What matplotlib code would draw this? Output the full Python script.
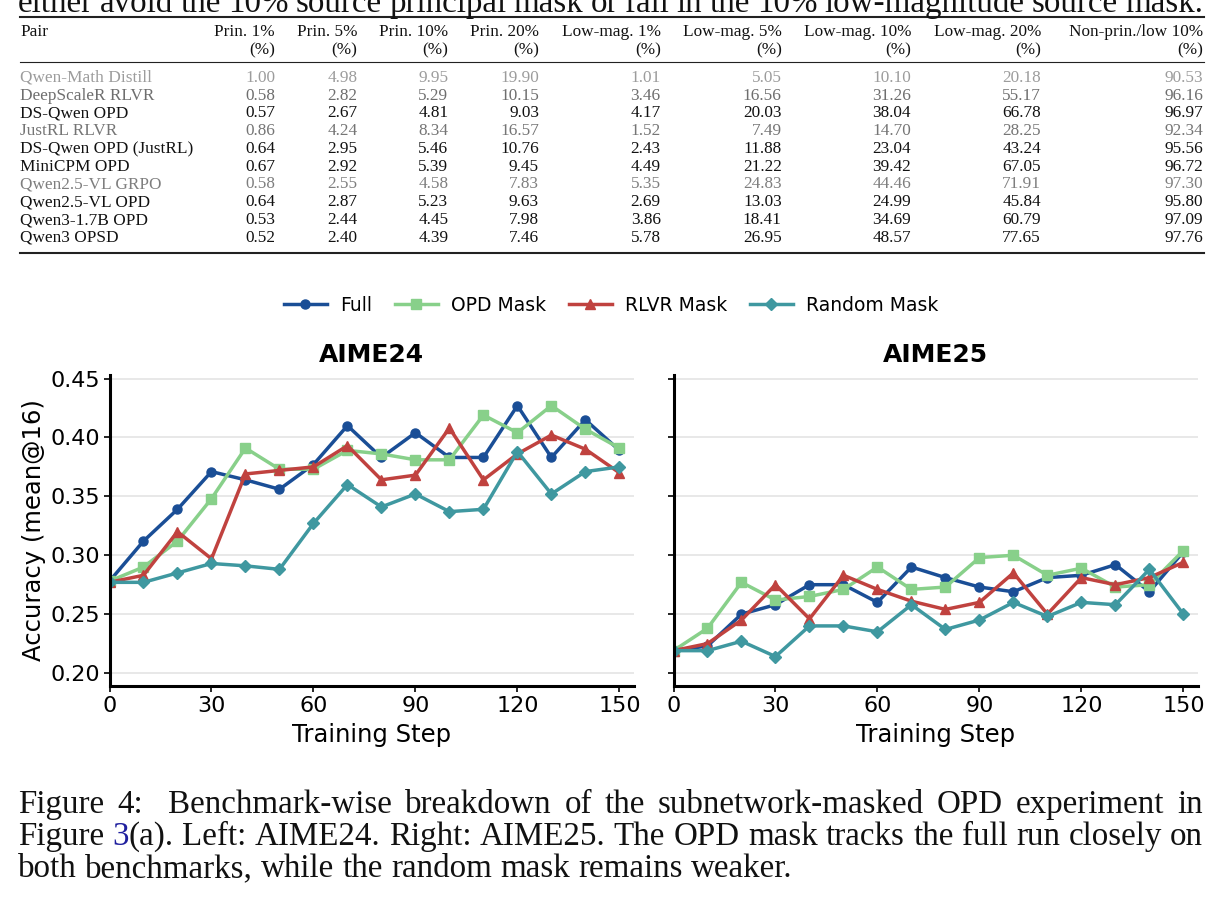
import matplotlib
matplotlib.use("Agg")
import matplotlib.pyplot as plt
from matplotlib.lines import Line2D

# ---------------- data ----------------
steps = [0, 10, 20, 30, 40, 50, 60, 70, 80, 90, 100, 110, 120, 130, 140, 150]

aime24_full = [0.278, 0.312, 0.339, 0.371, 0.364, 0.356, 0.377, 0.410, 0.383, 0.404, 0.383, 0.383, 0.427, 0.383, 0.415, 0.389]
aime24_opd = [0.278, 0.290, 0.312, 0.348, 0.391, 0.373, 0.373, 0.389, 0.386, 0.381, 0.381, 0.419, 0.404, 0.427, 0.407, 0.391]
aime24_rlvr = [0.277, 0.283, 0.320, 0.297, 0.369, 0.372, 0.375, 0.393, 0.364, 0.368, 0.408, 0.364, 0.386, 0.402, 0.390, 0.370]
aime24_random = [0.277, 0.277, 0.285, 0.293, 0.291, 0.288, 0.327, 0.360, 0.341, 0.352, 0.337, 0.339, 0.388, 0.352, 0.371, 0.375]

aime25_full = [0.219, 0.223, 0.250, 0.258, 0.275, 0.275, 0.260, 0.290, 0.281, 0.273, 0.269, 0.281, 0.283, 0.292, 0.269, 0.303]
aime25_opd = [0.219, 0.238, 0.277, 0.262, 0.265, 0.271, 0.290, 0.271, 0.273, 0.298, 0.300, 0.283, 0.289, 0.273, 0.275, 0.304]
aime25_rlvr = [0.219, 0.225, 0.245, 0.275, 0.246, 0.283, 0.271, 0.261, 0.254, 0.260, 0.285, 0.250, 0.281, 0.275, 0.281, 0.294]
aime25_random = [0.219, 0.219, 0.227, 0.214, 0.240, 0.240, 0.235, 0.258, 0.237, 0.245, 0.260, 0.248, 0.260, 0.258, 0.288, 0.250]

series_names = ["Full", "OPD Mask", "RLVR Mask", "Random Mask"]
benchmarks = ["AIME24", "AIME25"]
x_ticks = [0, 30, 60, 90, 120, 150]
y_ticks = [0.20, 0.25, 0.30, 0.35, 0.40, 0.45]

pairs = ["Qwen-Math Distill", "DeepScaleR RLVR", "DS-Qwen OPD", "JustRL RLVR",
         "DS-Qwen OPD (JustRL)", "MiniCPM OPD", "Qwen2.5-VL GRPO", "Qwen2.5-VL OPD",
         "Qwen3-1.7B OPD", "Qwen3 OPSD"]
col_heads = ["Prin. 1%", "Prin. 5%", "Prin. 10%", "Prin. 20%", "Low-mag. 1%",
             "Low-mag. 5%", "Low-mag. 10%", "Low-mag. 20%", "Non-prin./low 10%"]
prin_1 = [1.00, 0.58, 0.57, 0.86, 0.64, 0.67, 0.58, 0.64, 0.53, 0.52]
prin_5 = [4.98, 2.82, 2.67, 4.24, 2.95, 2.92, 2.55, 2.87, 2.44, 2.40]
prin_10 = [9.95, 5.29, 4.81, 8.34, 5.46, 5.39, 4.58, 5.23, 4.45, 4.39]
prin_20 = [19.90, 10.15, 9.03, 16.57, 10.76, 9.45, 7.83, 9.63, 7.98, 7.46]
low_1 = [1.01, 3.46, 4.17, 1.52, 2.43, 4.49, 5.35, 2.69, 3.86, 5.78]
low_5 = [5.05, 16.56, 20.03, 7.49, 11.88, 21.22, 24.83, 13.03, 18.41, 26.95]
low_10 = [10.10, 31.26, 38.04, 14.70, 23.04, 39.42, 44.46, 24.99, 34.69, 48.57]
low_20 = [20.18, 55.17, 66.78, 28.25, 43.24, 67.05, 71.91, 45.84, 60.79, 77.65]
nonprin_low_10 = [90.53, 96.16, 96.97, 92.34, 95.56, 96.72, 97.30, 95.80, 97.09, 97.76]

top_line = "either avoid the 10% source principal mask or fall in the 10% low-magnitude source mask."
caption_1 = "Figure 4:  Benchmark-wise breakdown of the subnetwork-masked OPD experiment in"
caption_2 = "Figure 3(a). Left: AIME24. Right: AIME25. The OPD mask tracks the full run closely on"
caption_3 = "both benchmarks, while the random mask remains weaker."

# ---------------- figure ----------------
W, H = 1223, 905
fig = plt.figure(figsize=(W / 100, H / 100), dpi=100)
renderer = fig.canvas.get_renderer()
SERIF = "Liberation Serif"


def fx(p):
    return p / W


def fy(p):
    return 1 - p / H


def text_width(s, size):
    t = fig.text(0, 0, s, fontsize=size, family=SERIF)
    w = t.get_window_extent(renderer).width
    t.remove()
    return w


def draw_line(words, base_y, x0, x1, size, justify=True):
    # words: list of lists of (text, color) segments
    widths = [sum(text_width(s, size) for s, _ in w) for w in words]
    weights = []
    for w in words[:-1]:
        last = w[-1][0]
        weights.append(2.0 if last.endswith(":") and last[0].isdigit() else 1.0)
    if justify:
        gap_unit = (x1 - x0 - sum(widths)) / sum(weights)
    else:
        gap_unit = text_width("a a", size) - text_width("aa", size)
    x = x0
    for i, (w, wd) in enumerate(zip(words, widths)):
        xx = x
        for s, c in w:
            fig.text(fx(xx), fy(base_y), s, fontsize=size, family=SERIF,
                     color=c, va="baseline", ha="left")
            xx += text_width(s, size)
        if i < len(weights):
            x += wd + gap_unit * weights[i]


def simple_words(line, color="#111111"):
    return [[(w, color)] for w in line.split()]


CAP = 23.8
draw_line(simple_words(top_line), 12.0, 18, 1203, CAP)

# ---------------- table ----------------
TS = 12.4
col_right = [275, 357.3, 448.3, 539, 660.7, 781.7, 911, 1041, 1203.3]
fig.add_artist(Line2D([fx(20), fx(1204)], [fy(17.5), fy(17.5)], lw=1.5, color="#222222"))
fig.add_artist(Line2D([fx(20), fx(1204)], [fy(62.5), fy(62.5)], lw=0.8, color="#222222"))
fig.add_artist(Line2D([fx(20), fx(1204)], [fy(253), fy(253)], lw=1.5, color="#222222"))

fig.text(fx(20.5), fy(36.5), "Pair", fontsize=TS, family=SERIF, va="baseline", ha="left", color="#111111")
for head, xr in zip(col_heads, col_right):
    fig.text(fx(xr), fy(36.5), head, fontsize=TS, family=SERIF, va="baseline", ha="right", color="#111111")
    fig.text(fx(xr), fy(54.5), "(%)", fontsize=TS, family=SERIF, va="baseline", ha="right", color="#111111")

columns = [prin_1, prin_5, prin_10, prin_20, low_1, low_5, low_10, low_20, nonprin_low_10]
row_colors = ["#9c9c9c", "#6e6e6e", "#111111", "#757575", "#111111",
              "#111111", "#7e7e7e", "#111111", "#111111", "#111111"]
for i, name in enumerate(pairs):
    yb = 81.7 + i * 17.8
    c = row_colors[i]
    fig.text(fx(20.5), fy(yb), name, fontsize=TS, family=SERIF, va="baseline", ha="left", color=c)
    for col, xr in zip(columns, col_right):
        fig.text(fx(xr), fy(yb), f"{col[i]:.2f}", fontsize=TS, family=SERIF,
                 va="baseline", ha="right", color=c)

# ---------------- charts ----------------
colors = ["#1a4e96", "#88d08a", "#c0423f", "#3f98a0"]
markers = ["o", "s", "^", "D"]
msizes = [6.5, 6.5, 7.5, 6]
data = {
    "AIME24": [aime24_full, aime24_opd, aime24_rlvr, aime24_random],
    "AIME25": [aime25_full, aime25_opd, aime25_rlvr, aime25_random],
}

ax_h = (686 - 375) / H
ax_w = (634 - 109.5) / W
ax1 = fig.add_axes([fx(109.5), fy(686), ax_w, ax_h])
ax2 = fig.add_axes([fx(673.5), fy(686), ax_w, ax_h], sharey=ax1)

handles = []
for ax, bench in zip([ax1, ax2], benchmarks):
    for vals, name, c, m, ms in zip(data[bench], series_names, colors, markers, msizes):
        ln, = ax.plot(steps, vals, color=c, marker=m, markersize=ms, lw=2.5,
                      label=name, clip_on=True)
        if ax is ax1:
            handles.append(ln)
    ax.set_xlim(0, 154.3)
    ax.set_ylim(0.189, 0.453)
    ax.set_xticks(x_ticks)
    ax.set_yticks(y_ticks)
    ax.yaxis.grid(True, color="#e4e4e4", lw=1.2)
    ax.set_axisbelow(True)
    for s in ["top", "right"]:
        ax.spines[s].set_visible(False)
    for s in ["left", "bottom"]:
        ax.spines[s].set_linewidth(2.2)
        ax.spines[s].set_color("black")
    ax.tick_params(axis="both", direction="out", length=4, width=1.2, labelsize=16, pad=3)
    ax.set_title(bench, fontsize=18, fontweight="bold", pad=9)
    ax.set_xlabel("Training Step", fontsize=17.5, labelpad=5)

ax1.yaxis.set_major_formatter(matplotlib.ticker.FormatStrFormatter("%.2f"))
ax1.set_ylabel("Accuracy (mean@16)", fontsize=17.5, labelpad=3)
ax2.tick_params(axis="y", labelleft=False)

fig.legend(handles, series_names, loc="center", bbox_to_anchor=(fx(611), fy(305)),
           ncol=4, frameon=False, fontsize=13.5, handlelength=2.3,
           handletextpad=0.7, columnspacing=1.2)

# ---------------- caption ----------------
cap1_words = simple_words(caption_1)
cap2_words = []
for w in caption_2.split():
    if w == "3(a).":
        cap2_words.append([("3", "#1f1f9e"), ("(a).", "#111111")])
    else:
        cap2_words.append([(w, "#111111")])
draw_line(cap1_words, 813, 18, 1203, CAP)
draw_line(cap2_words, 845, 18, 1203, CAP)
draw_line(simple_words(caption_3), 877, 18, 1203, CAP, justify=False)

fig.savefig("out.png", dpi=100)
